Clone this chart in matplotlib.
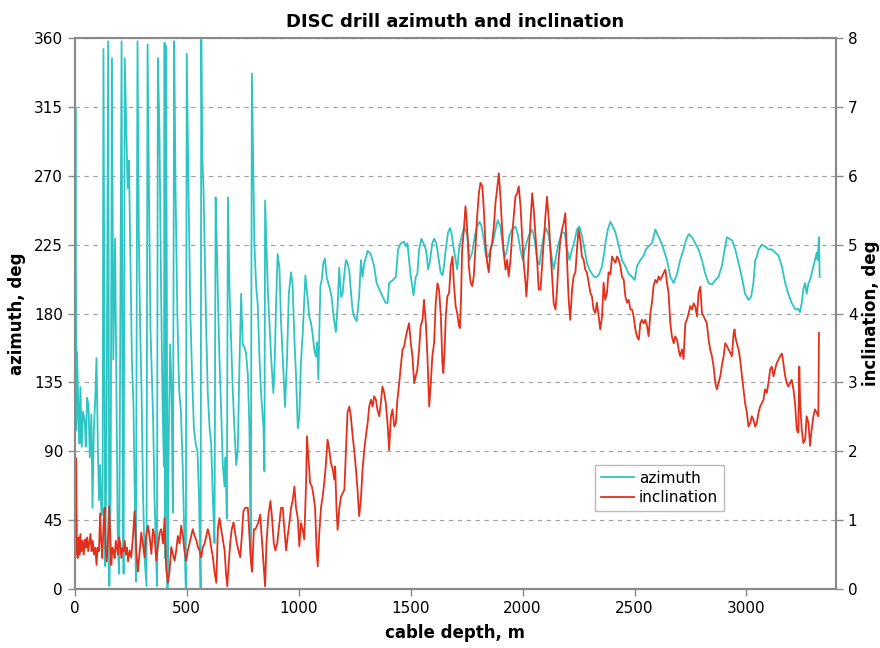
import matplotlib
matplotlib.use('Agg')
import matplotlib.pyplot as plt
import numpy as np

# azimuth readings (cable depth m, deg)
az_depth = [0, 3, 7, 10, 16, 21, 25, 31, 37, 45, 49, 55, 61, 67, 74, 79, 85, 91, 97, 103,
            108, 113, 119, 124, 128, 136, 142, 149, 154, 160, 166, 172, 180, 186, 192, 198, 209, 214, 218, 223,
            230, 236, 242, 248, 255, 262, 268, 273, 280, 286, 292, 298, 305, 312, 320, 325, 332, 338, 344, 350,
            356, 362, 367, 371, 378, 385, 392, 398, 401, 404, 407, 411, 414, 420, 426, 432, 438, 444, 450, 458,
            466, 474, 482, 490, 496, 500, 508, 516, 524, 532, 540, 548, 555, 562, 565, 569, 575, 581, 587, 594,
            602, 609, 617, 624, 629, 635, 639, 646, 654, 661, 669, 673, 679, 684, 691, 698, 706, 713, 721, 728,
            736, 743, 750, 758, 765, 773, 780, 786, 791, 802, 810, 817, 825, 832, 843, 847, 850, 862, 869, 877,
            887, 893, 899, 906, 914, 921, 929, 939, 948, 956, 966, 973, 981, 988, 996, 1003, 1010, 1018, 1030, 1040,
            1047, 1055, 1062, 1070, 1077, 1082, 1088, 1092, 1097, 1103, 1110, 1117, 1125, 1132, 1140, 1147, 1156, 1166, 1174, 1181,
            1189, 1196, 1204, 1211, 1218, 1226, 1233, 1241, 1248, 1259, 1270, 1278, 1285, 1293, 1308, 1315, 1322, 1337, 1348, 1360,
            1375, 1389, 1397, 1404, 1412, 1422, 1434, 1444, 1456, 1471, 1479, 1486, 1493, 1501, 1513, 1523, 1530, 1538, 1548, 1557,
            1568, 1572, 1578, 1585, 1597, 1605, 1615, 1624, 1634, 1642, 1649, 1657, 1667, 1676, 1683, 1693, 1701, 1708, 1716, 1727,
            1738, 1745, 1753, 1763, 1775, 1787, 1797, 1808, 1817, 1827, 1837, 1846, 1857, 1867, 1879, 1889, 1901, 1912, 1921, 1931,
            1941, 1953, 1968, 1980, 1990, 2001, 2013, 2028, 2043, 2054, 2065, 2075, 2084, 2095, 2105, 2117, 2132, 2139, 2149, 2161,
            2176, 2188, 2199, 2209, 2221, 2233, 2243, 2254, 2265, 2277, 2288, 2298, 2310, 2320, 2332, 2343, 2355, 2365, 2372, 2381,
            2392, 2400, 2415, 2430, 2444, 2459, 2474, 2489, 2501, 2511, 2526, 2541, 2551, 2563, 2578, 2593, 2605, 2615, 2630, 2645,
            2660, 2675, 2690, 2704, 2719, 2730, 2742, 2757, 2771, 2786, 2801, 2816, 2831, 2846, 2861, 2875, 2890, 2905, 2913, 2923,
            2935, 2950, 2965, 2979, 2994, 3009, 3021, 3031, 3039, 3046, 3054, 3069, 3083, 3098, 3113, 3128, 3143, 3158, 3173, 3187,
            3202, 3217, 3232, 3239, 3247, 3254, 3262, 3269, 3277, 3284, 3291, 3299, 3306, 3314, 3318, 3324, 3327]
az_deg = [130, 314, 104, 155, 118, 95, 132, 93, 116, 109, 93, 125, 120, 86, 114, 53, 104, 123, 151, 93,
          58, 81, 48, 50, 353, 15, 100, 358, 2, 60, 347, 150, 229, 130, 30, 10, 358, 60, 10, 347,
          300, 262, 280, 220, 150, 120, 60, 5, 358, 230, 170, 130, 60, 20, 2, 356, 250, 170, 140, 110,
          60, 30, 2, 347, 300, 200, 120, 80, 357, 20, 355, 200, 0, 100, 160, 130, 50, 358, 260, 180,
          130, 116, 80, 30, 0, 350, 260, 180, 140, 105, 95, 90, 60, 0, 359, 285, 261, 215, 170, 128,
          105, 95, 58, 30, 256, 221, 193, 151, 116, 81, 67, 86, 46, 256, 196, 163, 128, 105, 81, 91,
          150, 193, 160, 158, 154, 140, 105, 20, 337, 226, 198, 186, 151, 128, 105, 77, 254, 196, 175, 151,
          128, 150, 186, 219, 210, 175, 151, 119, 151, 193, 207, 198, 163, 140, 105, 113, 148, 167, 205, 190,
          178, 174, 167, 156, 152, 161, 137, 167, 198, 202, 213, 216, 204, 200, 196, 191, 178, 168, 185, 210,
          191, 193, 206, 215, 213, 208, 195, 182, 178, 175, 191, 215, 204, 213, 221, 220, 219, 211, 200, 196,
          191, 187, 187, 200, 201, 202, 204, 222, 226, 227, 224, 226, 215, 204, 192, 204, 206, 222, 229, 226,
          222, 218, 209, 213, 226, 229, 226, 217, 207, 205, 211, 222, 233, 236, 232, 222, 215, 209, 222, 230,
          236, 235, 231, 215, 220, 231, 237, 240, 237, 228, 217, 217, 222, 226, 235, 241, 237, 224, 217, 222,
          231, 235, 237, 231, 222, 215, 224, 231, 235, 228, 215, 212, 222, 231, 236, 231, 215, 209, 217, 226,
          233, 233, 222, 215, 222, 228, 235, 237, 231, 222, 213, 209, 206, 204, 204, 206, 211, 220, 228, 235,
          240, 238, 233, 224, 215, 211, 206, 204, 202, 211, 215, 218, 222, 224, 226, 235, 231, 228, 222, 215,
          204, 200, 206, 215, 222, 228, 232, 230, 226, 222, 215, 206, 200, 199, 202, 204, 211, 224, 230, 229,
          228, 222, 213, 204, 193, 189, 191, 200, 215, 217, 222, 225, 224, 222, 222, 220, 218, 211, 200, 193,
          187, 183, 183, 181, 187, 196, 200, 193, 200, 202, 206, 211, 215, 220, 215, 230, 204]

# inclination readings (cable depth m, deg)
inc_depth = [0, 4, 6, 9, 13, 17, 21, 25, 30, 35, 40, 45, 50, 55, 60, 65, 70, 75, 80, 86,
             92, 97, 102, 108, 113, 118, 123, 128, 133, 138, 143, 148, 153, 158, 163, 168, 173, 178, 183, 188,
             193, 198, 203, 208, 213, 218, 223, 228, 233, 238, 245, 252, 260, 267, 275, 282, 290, 297, 304, 312,
             319, 327, 334, 342, 349, 356, 364, 371, 379, 386, 394, 401, 408, 416, 423, 431, 438, 446, 453, 460,
             468, 475, 483, 490, 498, 505, 512, 520, 527, 535, 542, 550, 557, 565, 572, 580, 587, 594, 602, 609,
             617, 624, 632, 639, 646, 654, 661, 669, 676, 681, 687, 694, 701, 709, 716, 724, 731, 739, 746, 753,
             761, 773, 780, 788, 792, 800, 807, 814, 820, 828, 837, 844, 850, 856, 865, 874, 881, 889, 896, 904,
             911, 921, 929, 936, 944, 951, 959, 966, 973, 981, 988, 996, 1003, 1010, 1018, 1025, 1033, 1037, 1043, 1051,
             1059, 1067, 1073, 1080, 1085, 1092, 1100, 1107, 1114, 1122, 1129, 1137, 1144, 1152, 1159, 1163, 1169, 1174, 1181, 1189,
             1196, 1204, 1211, 1218, 1226, 1233, 1241, 1248, 1256, 1263, 1270, 1278, 1285, 1293, 1300, 1308, 1315, 1323, 1330, 1337,
             1345, 1352, 1360, 1367, 1374, 1382, 1389, 1397, 1404, 1412, 1419, 1427, 1434, 1441, 1449, 1456, 1464, 1471, 1479, 1486,
             1493, 1501, 1508, 1516, 1523, 1530, 1538, 1545, 1553, 1560, 1568, 1575, 1583, 1590, 1597, 1605, 1612, 1620, 1627, 1635,
             1642, 1646, 1652, 1657, 1664, 1672, 1679, 1687, 1693, 1701, 1708, 1716, 1720, 1725, 1730, 1738, 1745, 1750, 1756, 1760,
             1768, 1775, 1782, 1790, 1797, 1805, 1812, 1820, 1827, 1834, 1842, 1849, 1857, 1864, 1872, 1879, 1886, 1894, 1901, 1909,
             1916, 1924, 1931, 1938, 1946, 1953, 1968, 1976, 1983, 1991, 1998, 2005, 2013, 2017, 2023, 2028, 2035, 2043, 2050, 2057,
             2065, 2072, 2080, 2087, 2095, 2102, 2109, 2117, 2124, 2132, 2139, 2147, 2154, 2161, 2169, 2176, 2184, 2191, 2199, 2206,
             2213, 2221, 2228, 2236, 2243, 2250, 2258, 2265, 2273, 2280, 2288, 2295, 2303, 2310, 2317, 2325, 2332, 2340, 2347, 2355,
             2362, 2369, 2377, 2384, 2392, 2400, 2407, 2415, 2422, 2430, 2437, 2444, 2452, 2459, 2467, 2474, 2482, 2489, 2496, 2504,
             2511, 2519, 2526, 2533, 2541, 2548, 2556, 2563, 2571, 2578, 2585, 2593, 2600, 2608, 2615, 2623, 2630, 2638, 2645, 2652,
             2660, 2667, 2675, 2682, 2690, 2697, 2704, 2712, 2719, 2727, 2734, 2742, 2749, 2757, 2764, 2771, 2779, 2786, 2794, 2801,
             2809, 2816, 2823, 2831, 2838, 2846, 2853, 2861, 2868, 2875, 2883, 2890, 2898, 2905, 2913, 2920, 2928, 2935, 2943, 2947,
             2950, 2957, 2965, 2972, 2980, 2987, 2994, 3002, 3009, 3017, 3024, 3031, 3039, 3046, 3054, 3061, 3069, 3076, 3083, 3091,
             3098, 3106, 3113, 3121, 3128, 3135, 3143, 3150, 3158, 3165, 3173, 3180, 3187, 3195, 3202, 3210, 3217, 3225, 3232, 3236,
             3240, 3247, 3254, 3262, 3269, 3277, 3284, 3291, 3299, 3306, 3314, 3321, 3324]
inc_deg = [0.55, 0.5, 1.9, 0.7, 0.45, 0.75, 0.5, 0.8, 0.55, 0.7, 0.5, 0.72, 0.6, 0.75, 0.55, 0.68, 0.8, 0.55, 0.7, 0.5,
           0.6, 0.35, 0.6, 0.55, 1.1, 0.7, 0.45, 0.9, 1.18, 0.6, 0.4, 0.7, 1.2, 0.8, 0.35, 0.6, 0.55, 0.45, 0.7, 0.6,
           0.5, 0.75, 0.65, 0.45, 0.6, 0.55, 0.7, 0.5, 0.6, 0.4, 0.56, 0.46, 0.77, 1.13, 0.56, 0.25, 0.56, 0.82, 0.66, 0.46,
           0.77, 0.92, 0.77, 0.51, 0.87, 0.77, 0.41, 0.61, 0.82, 0.87, 0.66, 1.03, 0.3, 0.09, 0.25, 0.61, 0.51, 0.41, 0.56, 0.77,
           0.66, 0.92, 0.77, 0.56, 0.41, 0.56, 0.66, 0.77, 0.87, 0.77, 0.72, 0.61, 0.56, 0.46, 0.61, 0.66, 0.77, 0.87, 0.77, 0.61,
           0.46, 0.25, 0.09, 0.87, 1.03, 0.87, 0.72, 0.56, 0.2, 0.04, 0.35, 0.66, 0.87, 0.97, 0.82, 0.66, 0.56, 0.46, 0.77, 1.13,
           1.18, 1.18, 0.77, 0.35, 0.25, 0.87, 0.87, 0.92, 0.97, 1.08, 0.66, 0.35, 0.04, 0.66, 1.08, 1.28, 1.03, 0.66, 0.56, 0.66,
           0.87, 1.18, 1.18, 0.87, 0.56, 0.77, 0.97, 1.18, 1.28, 1.49, 1.18, 1.03, 0.62, 0.96, 0.86, 0.72, 1.54, 2.22, 1.93, 1.54,
           1.49, 1.34, 1.19, 0.57, 0.33, 0.81, 1.19, 1.34, 1.54, 1.83, 2.17, 2.02, 1.83, 1.74, 1.59, 1.78, 1.16, 0.86, 1.16, 1.34,
           1.39, 1.44, 2.02, 2.56, 2.65, 2.51, 2.22, 2.02, 1.73, 1.44, 1.06, 1.30, 1.73, 2.02, 2.22, 2.41, 2.65, 2.75, 2.65, 2.80,
           2.75, 2.60, 2.51, 2.70, 2.94, 2.85, 2.70, 2.41, 2.02, 2.51, 2.61, 2.36, 2.41, 2.75, 2.99, 3.23, 3.48, 3.52, 3.67, 3.77,
           3.86, 3.57, 3.38, 2.99, 3.09, 3.19, 3.48, 3.82, 3.91, 4.2, 3.86, 3.38, 2.65, 2.99, 3.38, 3.58, 4.15, 4.44, 4.35, 3.96,
           3.28, 3.14, 3.48, 3.96, 4.25, 4.30, 4.69, 4.83, 4.45, 4.11, 4.01, 3.82, 3.79, 4.2, 4.93, 5.22, 5.56, 5.37, 5.03, 4.69,
           4.45, 4.40, 4.54, 4.98, 5.41, 5.75, 5.9, 5.85, 5.51, 5.03, 4.74, 4.6, 4.93, 5.03, 5.27, 5.61, 5.80, 6.04, 5.7, 5.22,
           4.88, 4.64, 4.78, 4.54, 4.78, 5.12, 5.70, 5.75, 5.85, 5.56, 5.12, 4.74, 4.45, 4.25, 4.54, 4.93, 5.32, 5.75, 5.51, 5.17,
           4.78, 4.35, 4.35, 4.69, 5.07, 5.41, 5.7, 5.37, 4.93, 4.54, 4.15, 4.06, 4.35, 4.78, 5.07, 5.22, 5.32, 5.46, 4.74, 4.20,
           3.91, 4.35, 4.54, 4.6, 4.93, 5.22, 5.07, 4.83, 4.78, 4.64, 4.59, 4.45, 4.30, 4.25, 4.06, 4.01, 4.16, 3.96, 3.77, 3.96,
           4.45, 4.20, 4.30, 4.6, 4.57, 4.83, 4.78, 4.74, 4.83, 4.78, 4.69, 4.54, 4.49, 4.25, 4.16, 4.20, 4.06, 4.06, 3.96, 3.77,
           3.67, 3.62, 3.86, 3.91, 3.86, 3.91, 3.82, 3.67, 4.01, 4.16, 4.40, 4.49, 4.45, 4.54, 4.49, 4.54, 4.59, 4.64, 4.45, 4.30,
           3.86, 3.67, 3.57, 3.67, 3.62, 3.48, 3.38, 3.48, 3.34, 3.86, 3.91, 4.01, 4.11, 4.06, 4.15, 4.11, 3.96, 4.30, 4.39, 4.01,
           3.96, 3.91, 3.86, 3.62, 3.48, 3.38, 3.24, 2.99, 2.9, 2.99, 3.09, 3.24, 3.38, 3.57, 3.53, 3.48, 3.43, 3.38, 3.72, 3.77,
           3.67, 3.57, 3.48, 3.33, 3.09, 2.90, 2.70, 2.56, 2.36, 2.41, 2.51, 2.46, 2.36, 2.41, 2.56, 2.65, 2.70, 2.75, 2.90, 2.85,
           2.99, 3.19, 3.23, 3.09, 3.19, 3.28, 3.33, 3.38, 3.42, 3.28, 3.09, 2.99, 2.94, 2.99, 3.04, 2.90, 2.70, 2.31, 2.27, 3.23,
           2.70, 2.31, 2.12, 2.17, 2.51, 2.41, 2.08, 2.31, 2.51, 2.61, 2.56, 2.51, 3.72]

az_ticks = [0, 45, 90, 135, 180, 225, 270, 315, 360]
inc_ticks = [0, 1, 2, 3, 4, 5, 6, 7, 8]
depth_ticks = [0, 500, 1000, 1500, 2000, 2500, 3000]

AZ_COLOR = '#2ec4c4'
INC_COLOR = '#e3301c'
FRAME = '#8a8a8a'

plt.rcParams['font.family'] = 'DejaVu Sans'
fig = plt.figure(figsize=(8.8, 6.48), dpi=100)
ax = fig.add_axes([0.085, 0.091, 0.865, 0.850])
ax2 = ax.twinx()

l1, = ax.plot(az_depth, az_deg, color=AZ_COLOR, lw=1.3, label='azimuth')
l2, = ax2.plot(inc_depth, inc_deg, color=INC_COLOR, lw=1.3, label='inclination')

ax.set_xlim(0, 3400)
ax.set_ylim(0, 360)
ax2.set_ylim(0, 8)
ax.set_xticks(depth_ticks)
ax.set_yticks(az_ticks)
ax2.set_yticks(inc_ticks)

ax.yaxis.grid(True, color='#a0a0a0', linestyle=(0, (4, 4)), lw=0.8)
ax.set_axisbelow(True)

for a in (ax, ax2):
    for s in a.spines.values():
        s.set_color(FRAME)
        s.set_linewidth(1.5)
    a.tick_params(colors='black', labelsize=11, length=5, width=1, direction='out')
    a.tick_params(axis='both', color=FRAME)

ax.set_title('DISC drill azimuth and inclination', fontsize=13, fontweight='bold', pad=8)
ax.set_xlabel('cable depth, m', fontsize=12, fontweight='bold', labelpad=6)
ax.set_ylabel('azimuth, deg', fontsize=12, fontweight='bold', labelpad=6)
ax2.set_ylabel('inclination, deg', fontsize=12, fontweight='bold', labelpad=3)

# legend lives on the top axes so it sits above both lines
leg = ax2.legend([l1, l2], ['azimuth', 'inclination'], loc='lower left',
                 bbox_to_anchor=(0.673, 0.127), fontsize=11, frameon=True,
                 fancybox=False, borderpad=0.4, handlelength=2.2, handletextpad=0.3,
                 labelspacing=0.3, framealpha=1.0)
leg.get_frame().set_edgecolor('#bbbbbb')
leg.get_frame().set_linewidth(1.0)

fig.savefig('out.png', dpi=100)
